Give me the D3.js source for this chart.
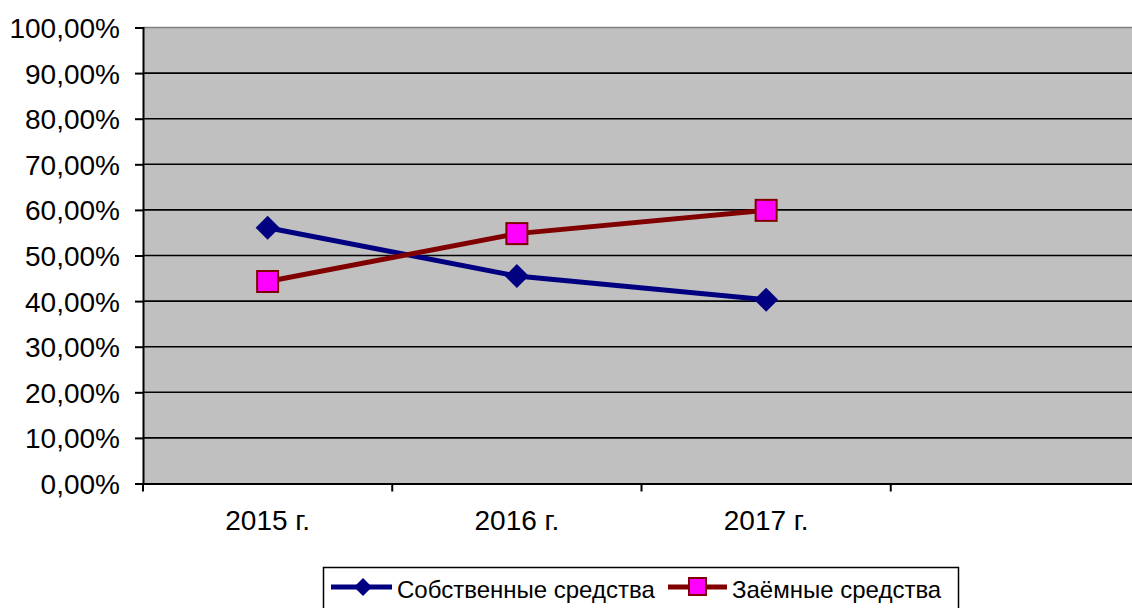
<!DOCTYPE html>
<meta charset="utf-8">
<style>
body { margin: 0; background: #fff; }
.axis text { font: 28px "Liberation Sans", Arial, sans-serif; fill: #000; }
.legend text { font: 24px "Liberation Sans", Arial, sans-serif; fill: #000; }
</style>
<body>
<script src="https://d3js.org/d3.v7.min.js"></script>
<script>

// data
var years = ["2015 г.", "2016 г.", "2017 г.", ""];
var own = [0.561, 0.455, 0.403];      // Собственные средства
var borrowed = [0.443, 0.548, 0.599]; // Заёмные средства
var seriesNames = ["Собственные средства", "Заёмные средства"];
var yTicks = [0, 0.1, 0.2, 0.3, 0.4, 0.5, 0.6, 0.7, 0.8, 0.9, 1.0];

var W = 1132, H = 608;
var plot = {left: 143, top: 27.5, right: 1140, bottom: 483.5};

var ru = d3.formatLocale({decimal: ",", thousands: " ", grouping: [3], currency: ["", ""], percent: "%"});
var pct = ru.format(".2%");

var x = d3.scaleBand().domain(years).range([plot.left, plot.right]);
var y = d3.scaleLinear().domain([0, 1]).range([plot.bottom, plot.top]);

var svg = d3.select("body").append("svg")
    .attr("width", W)
    .attr("height", H);

// plot area
svg.append("rect")
    .attr("x", plot.left).attr("y", plot.top)
    .attr("width", plot.right - plot.left).attr("height", plot.bottom - plot.top)
    .attr("fill", "#c0c0c0");

// gridlines
svg.append("g").selectAll("line")
    .data(yTicks.slice(1))
    .join("line")
    .attr("x1", plot.left).attr("x2", plot.right)
    .attr("y1", function(d) { return y(d); })
    .attr("y2", function(d) { return y(d); })
    .attr("stroke", function(d) { return d === 1 ? "#808080" : "#000"; })
    .attr("stroke-width", 1.6);

// y axis
var gY = svg.append("g")
    .attr("class", "axis")
    .attr("transform", "translate(" + plot.left + ",0)")
    .call(d3.axisLeft(y).tickValues(yTicks).tickFormat(pct).tickSize(8).tickPadding(15));
gY.select(".domain").attr("stroke", "#000").attr("stroke-width", 2);
gY.selectAll(".tick line").attr("stroke", "#000").attr("stroke-width", 2);
gY.selectAll(".tick text").attr("dy", "0.36em");

// x axis
var gX = svg.append("g")
    .attr("class", "axis")
    .attr("transform", "translate(0," + plot.bottom + ")")
    .call(d3.axisBottom(x).tickSize(0).tickPadding(27));
gX.select(".domain").attr("stroke", "#000").attr("stroke-width", 2);
gX.selectAll(".tick text").attr("dy", "0.71em");
// ticks between categories
gX.append("g").selectAll("line")
    .data(years)
    .join("line")
    .attr("x1", function(d) { return x(d); })
    .attr("x2", function(d) { return x(d); })
    .attr("y1", 0).attr("y2", 8)
    .attr("stroke", "#000").attr("stroke-width", 2);

var cx = function(i) { return x(years[i]) + x.bandwidth() / 2; };

var line = d3.line()
    .x(function(d, i) { return cx(i); })
    .y(function(d) { return y(d); });

// Собственные средства
svg.append("path")
    .attr("d", line(own))
    .attr("fill", "none")
    .attr("stroke", "#000080")
    .attr("stroke-width", 5);

// Заёмные средства
svg.append("path")
    .attr("d", line(borrowed))
    .attr("fill", "none")
    .attr("stroke", "#800000")
    .attr("stroke-width", 5);

var diamond = "M0,-12L12,0L0,12L-12,0Z";

svg.append("g").selectAll("path")
    .data(own)
    .join("path")
    .attr("d", diamond)
    .attr("transform", function(d, i) { return "translate(" + cx(i) + "," + y(d) + ")"; })
    .attr("fill", "#000080");

svg.append("g").selectAll("rect")
    .data(borrowed)
    .join("rect")
    .attr("x", function(d, i) { return cx(i) - 10.5; })
    .attr("y", function(d) { return y(d) - 10.5; })
    .attr("width", 21).attr("height", 21)
    .attr("fill", "#ff00ff")
    .attr("stroke", "#800000")
    .attr("stroke-width", 2);

// legend
var lg = svg.append("g").attr("class", "legend");
lg.append("rect")
    .attr("x", 323.5).attr("y", 567.5)
    .attr("width", 635).attr("height", 44)
    .attr("fill", "#fff").attr("stroke", "#000").attr("stroke-width", 1.5);

var ly = 587;
lg.append("line").attr("x1", 331).attr("x2", 392).attr("y1", ly).attr("y2", ly)
    .attr("stroke", "#000080").attr("stroke-width", 5);
lg.append("path").attr("d", "M0,-9L9,0L0,9L-9,0Z")
    .attr("transform", "translate(363," + ly + ")").attr("fill", "#000080");
lg.append("text").attr("x", 397).attr("y", ly + 2).attr("dy", "0.36em").text(seriesNames[0]);

lg.append("line").attr("x1", 668).attr("x2", 727).attr("y1", ly).attr("y2", ly)
    .attr("stroke", "#800000").attr("stroke-width", 5);
lg.append("rect").attr("x", 689).attr("y", ly - 9).attr("width", 17).attr("height", 17)
    .attr("fill", "#ff00ff").attr("stroke", "#800000").attr("stroke-width", 2);
lg.append("text").attr("x", 732).attr("y", ly + 2).attr("dy", "0.36em").text(seriesNames[1]);

</script>
</body>
